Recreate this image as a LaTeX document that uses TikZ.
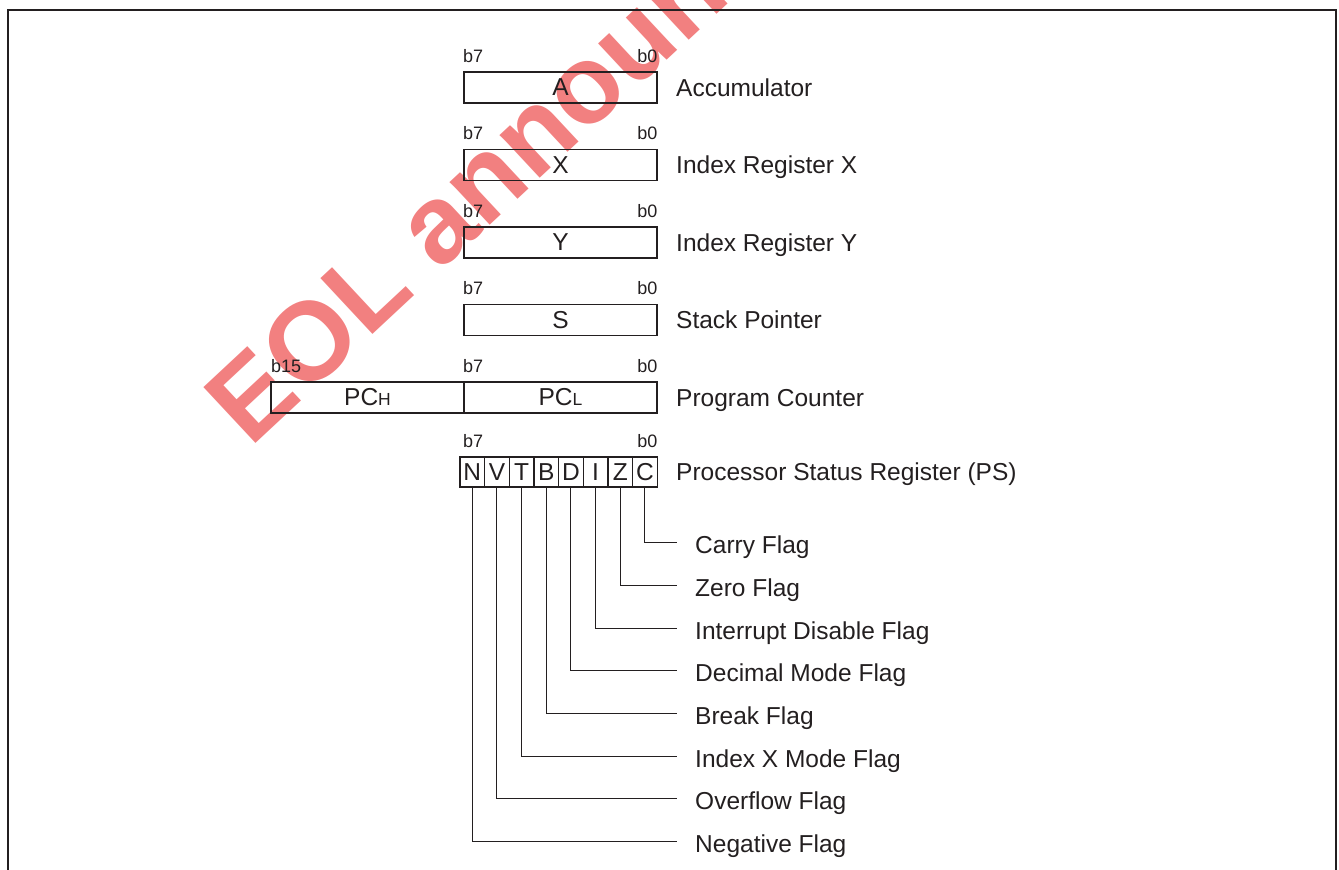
\documentclass[tikz,border=0pt]{standalone}
\usepackage{fontspec}
\setmainfont{Liberation Sans}
\definecolor{ink}{HTML}{231F20}
\definecolor{wm}{RGB}{242,128,128}
\begin{document}
\begin{tikzpicture}[x=1pt,y=-1pt,
  every node/.style={text=ink},
  box/.style={draw=ink, line width=1.1pt, inner sep=0pt, minimum height=31pt, font=\fontsize{24.5}{24.5}\selectfont},
  cell/.style={draw=ink, line width=1.1pt, inner sep=0pt, minimum width=24.66pt, minimum height=30pt, font=\fontsize{24.5}{24.5}\selectfont},
  lbl/.style={anchor=base west, inner sep=0pt, font=\fontsize{24.5}{24.5}\selectfont},
  bitl/.style={anchor=base west, inner sep=0pt, font=\fontsize{18}{18}\selectfont},
  bitr/.style={anchor=base east, inner sep=0pt, font=\fontsize{18}{18}\selectfont},
  wire/.style={draw=ink, line width=1pt}]
\useasboundingbox (0,0) rectangle (1339,870);
% watermark
\begin{scope}
\clip (0,0) rectangle (1339,870);
\node[rotate=43, anchor=base west, inner sep=0pt, text=wm, font=\bfseries\fontsize{111}{111}\selectfont] (wmk) at (250,449) {EOL announced};
\end{scope}
% frame
\draw[line width=2.4pt, draw=ink] (8,875) -- (8,10) -- (1336,10) -- (1336,875);
% Accumulator
\node[box, minimum width=193pt] (A) at (560.5,87.5) {A};
\node[bitl] (A7) at (463,62) {b7};
\node[bitr] (A0) at (657.5,62) {b0};
\node[lbl] (Al) at (676,96.3) {Accumulator};
% X
\node[box, minimum width=193pt] (X) at (560.5,165) {X};
\node[bitl] (X7) at (463,139.5) {b7};
\node[bitr] (X0) at (657.5,139.5) {b0};
\node[lbl] (Xl) at (676,173.8) {Index Register X};
% Y
\node[box, minimum width=193pt] (Y) at (560.5,242.5) {Y};
\node[bitl] (Y7) at (463,217) {b7};
\node[bitr] (Y0) at (657.5,217) {b0};
\node[lbl] (Yl) at (676,251.3) {Index Register Y};
% S
\node[box, minimum width=193pt] (S) at (560.5,320) {S};
\node[bitl] (S7) at (463,294.5) {b7};
\node[bitr] (S0) at (657.5,294.5) {b0};
\node[lbl] (Sl) at (676,328.8) {Stack Pointer};
% PC
\node[box, minimum width=193pt] (PCH) at (367.5,397.5) {PC{\fontsize{17.5}{17.5}\selectfont H}};
\node[box, minimum width=193pt] (PCL) at (560.5,397.5) {PC{\fontsize{17.5}{17.5}\selectfont L}};
\node[bitl] (P15) at (271,372) {b15};
\node[bitl] (P7) at (463,372) {b7};
\node[bitr] (P0) at (657.5,372) {b0};
\node[lbl] (Pl) at (676,406.3) {Program Counter};
% PS
\node[bitl] (F7) at (463,447) {b7};
\node[bitr] (F0) at (657.5,447) {b0};
\node[cell] (cN) at (472.33,472) {N};
\node[cell] (cV) at (496.99,472) {V};
\node[cell] (cT) at (521.65,472) {T};
\node[cell] (cB) at (546.31,472) {B};
\node[cell] (cD) at (570.97,472) {D};
\node[cell] (cI) at (595.63,472) {I};
\node[cell] (cZ) at (620.29,472) {Z};
\node[cell] (cC) at (644.95,472) {C};
\node[lbl] (Fl) at (676,480.8) {Processor Status Register (PS)};
% flag ends
\coordinate (eC) at (677,542.7);
\coordinate (eZ) at (677,585.4);
\coordinate (eI) at (677,628.1);
\coordinate (eD) at (677,670.8);
\coordinate (eB) at (677,713.5);
\coordinate (eT) at (677,756.2);
\coordinate (eV) at (677,798.9);
\coordinate (eN) at (677,841.6);
\node[lbl] (lC) at (695,553.7) {Carry Flag};
\node[lbl] (lZ) at (695,596.4) {Zero Flag};
\node[lbl] (lI) at (695,639.1) {Interrupt Disable Flag};
\node[lbl] (lD) at (695,681.8) {Decimal Mode Flag};
\node[lbl] (lB) at (695,724.5) {Break Flag};
\node[lbl] (lT) at (695,767.2) {Index X Mode Flag};
\node[lbl] (lV) at (695,809.9) {Overflow Flag};
\node[lbl] (lN) at (695,852.6) {Negative Flag};
\draw[wire] (cC.south) |- (eC);
\draw[wire] (cZ.south) |- (eZ);
\draw[wire] (cI.south) |- (eI);
\draw[wire] (cD.south) |- (eD);
\draw[wire] (cB.south) |- (eB);
\draw[wire] (cT.south) |- (eT);
\draw[wire] (cV.south) |- (eV);
\draw[wire] (cN.south) |- (eN);
\end{tikzpicture}
\end{document}
